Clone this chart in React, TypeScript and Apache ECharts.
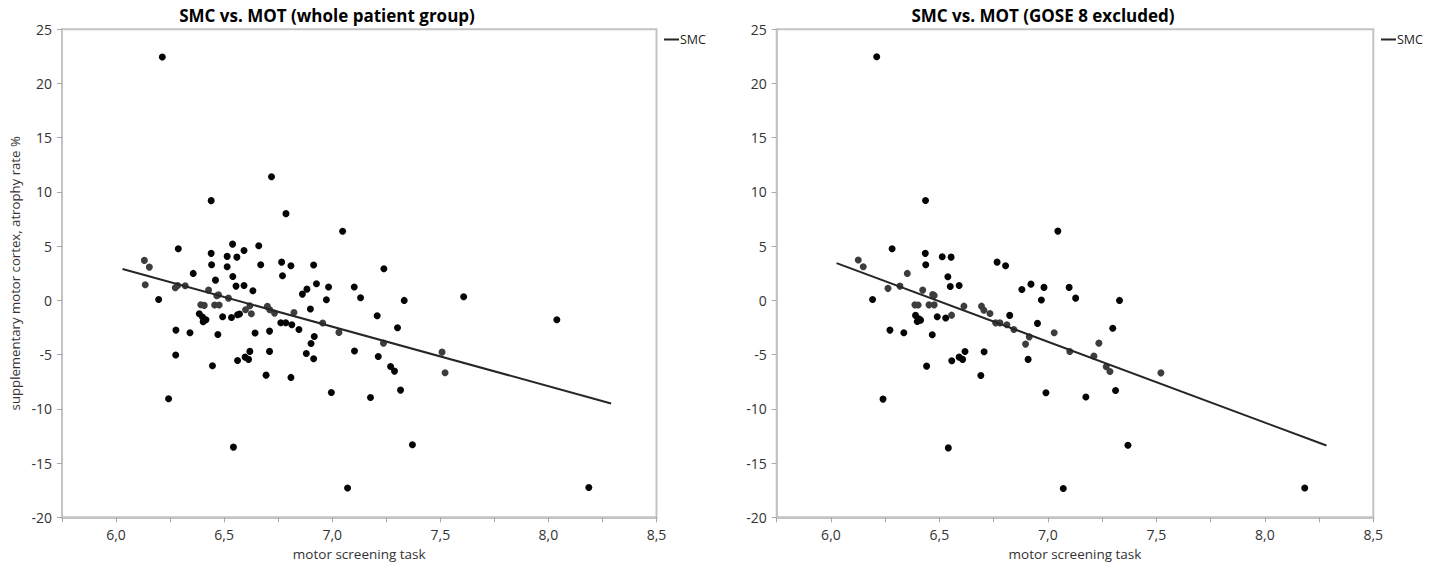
import React, { useEffect, useRef } from "react";
import * as echarts from "echarts";

// ---------- data ----------
const xTickValues = [6.0, 6.5, 7.0, 7.5, 8.0, 8.5];
const yTickValues = [-20, -15, -10, -5, 0, 5, 10, 15, 20, 25];

const leftBlack: number[][] = [
  [6.288, 4.77], [6.197, 0.09], [6.357, 2.49], [6.277, -2.74], [6.276, -5.04],
  [6.342, -2.98], [6.446, -6.03], [6.44, 4.34], [6.442, 3.29], [6.539, 5.19],
  [6.514, 4.06], [6.559, 3.99], [6.592, 4.61], [6.66, 5.04], [6.514, 3.1],
  [6.669, 3.29], [6.46, 1.87], [6.54, 2.21], [6.555, 1.32], [6.592, 1.38],
  [6.633, 0.89], [6.385, -1.23], [6.4, -1.54], [6.416, -1.78], [6.403, -1.97],
  [6.493, -1.5], [6.534, -1.57], [6.562, -1.32], [6.571, -1.26], [6.471, -3.14],
  [6.643, -3.01], [6.71, -2.83], [6.762, -2.06], [6.785, -2.06], [6.813, -2.24],
  [6.846, -2.68], [6.766, 3.53], [6.809, 3.2], [6.77, 2.28], [6.914, 3.26],
  [6.883, 1.04], [6.862, 0.58], [6.927, 1.54], [6.983, 1.23], [6.973, 0.06],
  [6.899, -0.8], [6.917, -3.32], [6.902, -3.97], [6.88, -4.89], [6.914, -5.38],
  [6.71, -4.7], [6.619, -4.7], [6.597, -5.23], [6.613, -5.44], [6.562, -5.54],
  [6.694, -6.89], [6.809, -7.1], [6.996, -8.49], [6.243, -9.07], [6.543, -13.53],
  [7.071, -17.3], [6.214, 22.44], [6.44, 9.2], [6.719, 11.41], [6.786, 8.0],
  [7.048, 6.37], [7.239, 2.92], [7.102, 1.23], [7.131, 0.25], [7.333, 0.0],
  [7.608, 0.34], [8.039, -1.78], [7.208, -1.41], [7.302, -2.52], [7.103, -4.67],
  [7.213, -5.17], [7.27, -6.09], [7.288, -6.52], [7.316, -8.27], [7.177, -8.96],
  [7.371, -13.31], [8.187, -17.25],
];

const leftGray: number[][] = [
  [6.131, 3.69], [6.154, 3.07], [6.135, 1.45], [6.274, 1.17], [6.285, 1.38],
  [6.32, 1.36], [6.428, 0.95], [6.474, 0.53], [6.466, 0.43], [6.52, 0.21],
  [6.392, -0.4], [6.408, -0.46], [6.456, -0.43], [6.477, -0.43], [6.599, -0.86],
  [6.619, -0.49], [6.626, -1.23], [6.7, -0.55], [6.711, -0.86], [6.733, -1.17],
  [6.823, -1.11], [6.956, -2.09], [7.031, -2.95], [7.237, -3.94], [7.508, -4.77],
  [7.522, -6.67],
];

const leftFit: number[][] = [[6.03, 2.9], [8.29, -9.5]];

const rightBlack: number[][] = [
  [6.282, 4.76], [6.192, 0.09], [6.272, -2.74], [6.336, -2.99], [6.441, -6.06],
  [6.435, 4.34], [6.437, 3.28], [6.513, 4.02], [6.554, 3.99], [6.539, 2.18],
  [6.55, 1.29], [6.591, 1.38], [6.39, -1.38], [6.405, -1.7], [6.398, -1.94],
  [6.413, -1.82], [6.49, -1.51], [6.529, -1.63], [6.467, -3.17], [6.766, 3.53],
  [6.805, 3.19], [6.824, -1.38], [6.88, 1.01], [6.922, 1.5], [6.982, 1.2],
  [6.97, 0.03], [6.952, -2.12], [6.909, -5.44], [6.706, -4.74], [6.618, -4.71],
  [6.591, -5.23], [6.607, -5.44], [6.557, -5.57], [6.691, -6.92], [6.991, -8.52],
  [6.211, 22.47], [6.436, 9.22], [7.046, 6.39], [7.098, 1.2], [7.128, 0.21],
  [7.33, 0.0], [7.299, -2.56], [7.312, -8.3], [7.175, -8.9], [7.369, -13.35],
  [8.184, -17.29], [7.071, -17.34], [6.541, -13.6], [6.24, -9.1],
];

const rightGray: number[][] = [
  [6.126, 3.72], [6.149, 3.1], [6.352, 2.49], [6.263, 1.11], [6.318, 1.32],
  [6.423, 0.95], [6.469, 0.55], [6.476, 0.46], [6.387, -0.41], [6.402, -0.43],
  [6.452, -0.41], [6.476, -0.41], [6.556, -1.36], [6.613, -0.53], [6.694, -0.53],
  [6.705, -0.9], [6.733, -1.2], [6.759, -2.07], [6.779, -2.07], [6.811, -2.25],
  [6.843, -2.68], [6.914, -3.36], [6.897, -4.03], [7.029, -2.99], [7.235, -3.94],
  [7.101, -4.71], [7.212, -5.14], [7.269, -6.12], [7.286, -6.55], [7.521, -6.68],
];

const rightFit: number[][] = [[6.026, 3.44], [8.284, -13.38]];

const titles = ["SMC vs. MOT (whole patient group)", "SMC vs. MOT (GOSE 8 excluded)"];
const xName = "motor screening task";
const yName = "supplementary motor cortex, atrophy rate %";
const legendName = "SMC";

// ---------- chart ----------
const FONT = "'Open Sans', 'Noto Sans', sans-serif";
const AXIS_COLOR = "#c4c4c4";
const LABEL_COLOR = "#333333";

function xLabel(v: number): string {
  const hit = xTickValues.some((t) => Math.abs(t - v) < 1e-6);
  return hit ? v.toFixed(1).replace(".", ",") : "";
}

function yLabel(v: number): string {
  const hit = yTickValues.some((t) => Math.abs(t - v) < 1e-6);
  return hit ? String(Math.round(v)) : "";
}

function makeXAxis(gridIndex: number) {
  return {
    type: "value",
    gridIndex,
    min: 5.75,
    max: 8.5,
    interval: 0.25,
    name: xName,
    nameLocation: "middle",
    nameGap: 30,
    nameTextStyle: { fontFamily: FONT, fontSize: 13.5, color: LABEL_COLOR },
    axisLine: { show: true, onZero: false, lineStyle: { color: AXIS_COLOR, width: 2 } },
    axisTick: { show: true, length: 5, lineStyle: { color: "#a8a8a8", width: 1 } },
    axisLabel: { formatter: xLabel, margin: 10, fontFamily: FONT, fontSize: 14, color: LABEL_COLOR },
    splitLine: { show: false },
  };
}

function makeYAxis(gridIndex: number, withName: boolean) {
  return {
    type: "value",
    gridIndex,
    min: -20,
    max: 25,
    interval: 5,
    name: withName ? yName : "",
    nameLocation: "middle",
    nameGap: 41,
    nameRotate: 90,
    nameTextStyle: { fontFamily: FONT, fontSize: 13.2, color: LABEL_COLOR },
    axisLine: { show: true, onZero: false, lineStyle: { color: AXIS_COLOR, width: 2 } },
    axisTick: { show: true, length: 5, lineStyle: { color: "#a8a8a8", width: 1 } },
    axisLabel: { formatter: yLabel, margin: 10, fontFamily: FONT, fontSize: 14, color: LABEL_COLOR },
    splitLine: { show: false },
  };
}

function scatter(name: string, data: number[][], idx: number, color: string) {
  return {
    type: "scatter",
    name,
    xAxisIndex: idx,
    yAxisIndex: idx,
    data,
    symbol: "circle",
    symbolSize: 7,
    itemStyle: { color, opacity: 1 },
    z: 2,
  };
}

function fitLine(data: number[][], idx: number) {
  return {
    type: "line",
    name: legendName,
    xAxisIndex: idx,
    yAxisIndex: idx,
    data,
    symbol: "none",
    lineStyle: { color: "#262626", width: 2 },
    itemStyle: { color: "#262626" },
    z: 3,
  };
}

function legend(left: number) {
  return {
    data: [legendName],
    left,
    top: 33,
    padding: 0,
    icon: "rect",
    itemWidth: 15,
    itemHeight: 2,
    itemGap: 0,
    selectedMode: false,
    textStyle: { fontFamily: FONT, fontSize: 12.5, color: "#222", padding: [0, 0, 0, -4] },
  };
}

function titleText(text: string, x: number) {
  return {
    type: "text",
    x,
    y: 15,
    style: {
      text,
      font: `bold 17px ${FONT}`,
      fill: "#000",
      align: "center",
      verticalAlign: "middle",
      textAlign: "center",
      textVerticalAlign: "middle",
    },
  };
}

export default function App() {
  const ref = useRef<HTMLDivElement>(null);
  useEffect(() => {
    if (!ref.current) return;
    const chart = echarts.init(ref.current, undefined, { renderer: "svg" });
    const option: any = {
      animation: false,
      backgroundColor: "#ffffff",
      graphic: [titleText(titles[0], 327), titleText(titles[1], 1043)],
      legend: [legend(664), legend(1381)],
      grid: [
        { left: 62, top: 29.3, width: 594.5, height: 488, show: true, borderColor: AXIS_COLOR, borderWidth: 2, backgroundColor: "transparent" },
        { left: 776.7, top: 29.3, width: 596.6, height: 488, show: true, borderColor: AXIS_COLOR, borderWidth: 2, backgroundColor: "transparent" },
      ],
      xAxis: [makeXAxis(0), makeXAxis(1)],
      yAxis: [makeYAxis(0, true), makeYAxis(1, false)],
      series: [
        scatter("left black", leftBlack, 0, "#050505"),
        scatter("left gray", leftGray, 0, "#3d3d3d"),
        fitLine(leftFit, 0),
        scatter("right black", rightBlack, 1, "#050505"),
        scatter("right gray", rightGray, 1, "#3d3d3d"),
        fitLine(rightFit, 1),
      ],
    };
    chart.setOption(option);
    return () => chart.dispose();
  }, []);
  return (
    <div
      ref={ref}
      style={{ position: "fixed", left: 0, top: 0, width: 1446, height: 572, background: "#fff" }}
    />
  );
}
